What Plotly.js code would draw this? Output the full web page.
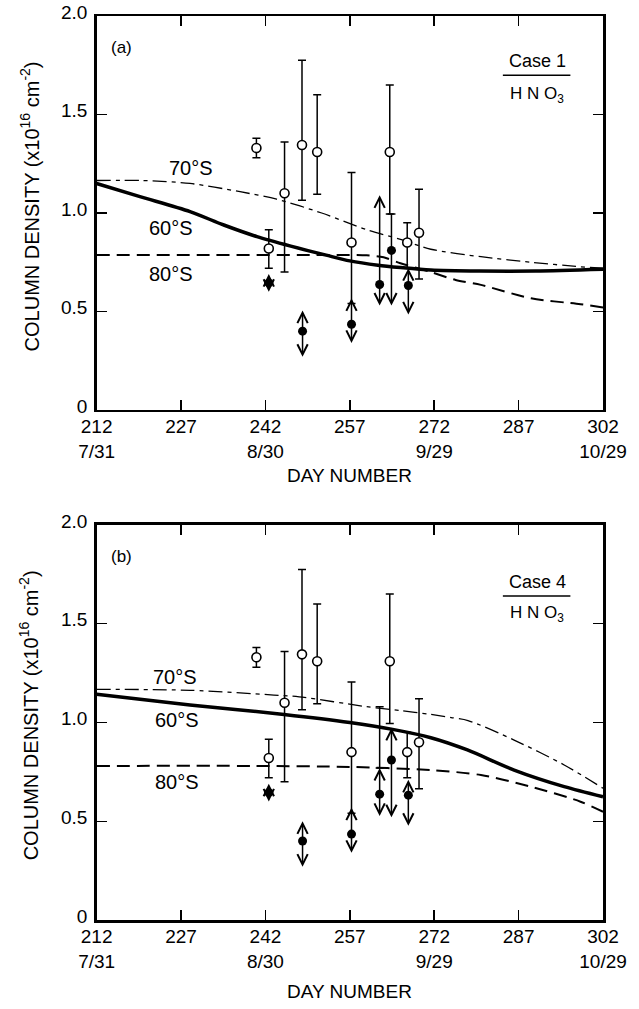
<!DOCTYPE html>
<html>
<head>
<meta charset="utf-8">
<script src="https://cdn.plot.ly/plotly-3.0.1.min.js"></script>
<style>html,body{margin:0;padding:0;background:#fff;}#chart{width:639px;height:1009px;}</style>
</head>
<body>
<div id="chart"></div>
<script>
// ---------- data ----------
const tickDays = [212, 227, 242, 257, 272, 287, 302];
const tickText = ['212<br>7/31', '227', '242<br>8/30', '257', '272<br>9/29', '287', '302<br>10/29'];
const yTicks = [0, 0.5, 1.0, 1.5, 2.0];
const yTickText = ['0', '0.5', '1.0', '1.5', '2.0'];

// open circles (observations with error bars) – same in both panels
const openDay = [240.4, 242.6, 245.4, 248.5, 251.2, 257.3, 264.1, 267.2, 269.3];
const openVal = [1.33, 0.82, 1.10, 1.345, 1.31, 0.85, 1.31, 0.85, 0.90];
const openHi  = [1.38, 0.915, 1.36, 1.775, 1.60, 1.205, 1.65, 0.95, 1.12];
const openLo  = [1.28, 0.72, 0.70, 1.065, 1.095, 0.54, 0.995, 0.72, 0.665];

// filled circles (with range arrows)
const solidDay = [242.6, 248.6, 257.3, 262.3, 264.4, 267.4];
const solidVal = [0.645, 0.40, 0.435, 0.637, 0.81, 0.632];
const upTipA   = [0.69, 0.505, 0.567, 1.09, null, 0.72];
const downTipA = [0.60, 0.27, 0.34, 0.53, 0.53, 0.485];
const upTipB   = [0.69, 0.50, 0.569, 0.77, 0.973, 0.71];
const downTipB = [0.60, 0.27, 0.34, 0.527, 0.52, 0.477];

// extra plain range segments
const extraDayA = [264.4], extraLoA = [0.81], extraHiA = [0.995];
const extraDayB = [262.3], extraLoB = [0.77], extraHiB = [1.08];

// model curves, panel (a) Case 1
const d70a = [212, 220, 228.6, 237.5, 244, 252, 260, 266, 271.4, 280.3, 289.2, 298, 302];
const v70a = [1.165, 1.165, 1.15, 1.108, 1.07, 1.00, 0.915, 0.866, 0.816, 0.778, 0.75, 0.727, 0.72];
const d60a = [212, 219.7, 228.6, 234.6, 240.5, 246.5, 252.8, 257, 262, 266, 271.4, 280, 290, 302];
const v60a = [1.15, 1.083, 1.007, 0.939, 0.88, 0.832, 0.786, 0.757, 0.735, 0.723, 0.71, 0.705, 0.705, 0.714];
const d80a = [212, 230, 250, 260, 263, 266, 271.4, 275.8, 280.3, 289.2, 298, 302];
const v80a = [0.787, 0.787, 0.787, 0.785, 0.775, 0.745, 0.70, 0.66, 0.635, 0.567, 0.537, 0.52];

// model curves, panel (b) Case 4
const d70b = [212, 228.6, 243.5, 248, 260, 266, 271.4, 275, 278, 286.2, 295.1, 302];
const v70b = [1.168, 1.163, 1.139, 1.13, 1.08, 1.06, 1.041, 1.025, 1.01, 0.911, 0.785, 0.667];
const d60b = [212, 228.6, 245.3, 257, 264.6, 271.4, 277.9, 286.2, 295.1, 302];
const v60b = [1.143, 1.089, 1.041, 1.0, 0.965, 0.923, 0.861, 0.759, 0.675, 0.624];
const d80b = [212, 240, 257, 271.4, 280.3, 289.2, 298, 302];
const v80b = [0.78, 0.78, 0.775, 0.759, 0.734, 0.675, 0.599, 0.548];

const labels = ['70°S', '60°S', '80°S'];
const labelDayA = [228.8, 225.2, 225.2], labelValA = [1.228, 0.924, 0.69];
const labelDayB = [226.0, 226.3, 226.3], labelValB = [1.232, 1.013, 0.70];

// ---------- build ----------
const FONT = 'Liberation Sans, Arial, sans-serif';
const K = '#000';

function panel(xa, ya, d70, v70, d60, v60, d80, v80, upTip, downTip, exD, exLo, exHi) {
  const tr = [];
  tr.push({x: d70, y: v70, xaxis: xa, yaxis: ya, mode: 'lines', line: {color: K, width: 1.3, dash: '14px,5px,4px,5px', shape: 'spline', smoothing: 0.8}, hoverinfo: 'skip'});
  tr.push({x: d80, y: v80, xaxis: xa, yaxis: ya, mode: 'lines', line: {color: K, width: 2, dash: '13px,7px', shape: 'spline', smoothing: 0.8}, hoverinfo: 'skip'});
  tr.push({x: d60, y: v60, xaxis: xa, yaxis: ya, mode: 'lines', line: {color: K, width: 3.5, shape: 'spline', smoothing: 0.8}, hoverinfo: 'skip'});
  tr.push({x: exD, y: exHi, xaxis: xa, yaxis: ya, mode: 'markers', marker: {size: 1, color: 'rgba(0,0,0,0)'},
    error_y: {type: 'data', symmetric: false, array: exHi.map(() => 0), arrayminus: exHi.map((h, i) => h - exLo[i]), color: K, thickness: 1.5, width: 4}});
  tr.push({x: openDay, y: openVal, xaxis: xa, yaxis: ya, mode: 'markers',
    marker: {symbol: 'circle', size: 9, color: '#fff', line: {color: K, width: 1.6}},
    error_y: {type: 'data', symmetric: false, array: openHi.map((h, i) => h - openVal[i]), arrayminus: openLo.map((l, i) => openVal[i] - l), color: K, thickness: 1.5, width: 4}});
  tr.push({x: solidDay, y: solidVal, xaxis: xa, yaxis: ya, mode: 'markers', marker: {symbol: 'circle', size: 9, color: K}});
  const ann = [];
  const refx = xa, refy = ya;
  [upTip, downTip].forEach(tips => {
    tips.forEach((t, i) => {
      if (t === null) return;
      ann.push({x: solidDay[i], y: t, ax: solidDay[i], ay: solidVal[i], xref: refx, yref: refy, axref: refx, ayref: refy,
        text: '', showarrow: true, arrowhead: 5, arrowsize: 1.35, arrowwidth: 1.5, arrowcolor: K, standoff: 0, startstandoff: 0});
    });
  });
  return {tr, ann};
}

const A = panel('x', 'y', d70a, v70a, d60a, v60a, d80a, v80a, upTipA, downTipA, extraDayA, extraLoA, extraHiA);
const B = panel('x2', 'y2', d70b, v70b, d60b, v60b, d80b, v80b, upTipB, downTipB, extraDayB, extraLoB, extraHiB);

function txt(o) { return Object.assign({showarrow: false, xanchor: 'center', yanchor: 'middle'}, o); }
const ann = A.ann.concat(B.ann);
labels.forEach((t, i) => {
  ann.push(txt({x: labelDayA[i], y: labelValA[i], xref: 'x', yref: 'y', text: t, font: {family: FONT, size: 20, color: K}}));
  ann.push(txt({x: labelDayB[i], y: labelValB[i], xref: 'x2', yref: 'y2', text: t, font: {family: FONT, size: 20, color: K}}));
});
const yTitle = 'COLUMN DENSITY (x10<sup>16</sup> cm<sup>-2</sup>)';
ann.push(txt({x: 0.046, y: 0.7958, xref: 'paper', yref: 'paper', text: yTitle, textangle: -90, font: {family: FONT, size: 20, color: K}}));
ann.push(txt({x: 0.046, y: 0.2914, xref: 'paper', yref: 'paper', text: yTitle, textangle: -90, font: {family: FONT, size: 20, color: K}}));
ann.push(txt({x: 0.547, y: 0.5283, xref: 'paper', yref: 'paper', text: 'DAY NUMBER', font: {family: FONT, size: 19, color: K}}));
ann.push(txt({x: 0.547, y: 0.0178, xref: 'paper', yref: 'paper', text: 'DAY NUMBER', font: {family: FONT, size: 19, color: K}}));
ann.push(txt({x: 216.5, y: 1.84, xref: 'x', yref: 'y', text: '(a)', font: {family: FONT, size: 17, color: K}}));
ann.push(txt({x: 216.5, y: 1.84, xref: 'x2', yref: 'y2', text: '(b)', font: {family: FONT, size: 17, color: K}}));
ann.push(txt({x: 290.3, y: 1.77, xref: 'x', yref: 'y', text: 'Case 1', font: {family: FONT, size: 18, color: K}}));
ann.push(txt({x: 290.3, y: 1.60, xref: 'x', yref: 'y', text: 'H N O<sub>3</sub>', font: {family: FONT, size: 17, color: K}}));
ann.push(txt({x: 290.3, y: 1.71, xref: 'x2', yref: 'y2', text: 'Case 4', font: {family: FONT, size: 18, color: K}}));
ann.push(txt({x: 290.3, y: 1.55, xref: 'x2', yref: 'y2', text: 'H N O<sub>3</sub>', font: {family: FONT, size: 17, color: K}}));

const shapes = [
  {type: 'line', xref: 'x', yref: 'y', x0: 284.2, x1: 296.2, y0: 1.70, y1: 1.70, line: {color: K, width: 1.5}},
  {type: 'line', xref: 'x2', yref: 'y2', x0: 284.2, x1: 296.2, y0: 1.64, y1: 1.64, line: {color: K, width: 1.5}}
];

function xax(anchor) {
  return {domain: [0.1512, 0.9437], range: [212, 302], anchor: anchor, tickvals: tickDays, ticktext: tickText,
    ticks: 'inside', ticklen: 10, tickwidth: 1.5, tickcolor: K, showline: true, linewidth: 2.5, linecolor: K, mirror: 'ticks',
    ticklabelstandoff: -2,
    showgrid: false, zeroline: false, tickfont: {family: FONT, size: 19, color: K}, fixedrange: true};
}
function yax(anchor, dom) {
  return {domain: dom, range: [0, 2], anchor: anchor, tickvals: yTicks, ticktext: yTickText,
    ticks: 'inside', ticklen: 10, tickwidth: 1.5, tickcolor: K, showline: true, linewidth: 2.5, linecolor: K, mirror: 'ticks',
    ticklabelshift: -4, ticklabelstandoff: 3,
    showgrid: false, zeroline: false, tickfont: {family: FONT, size: 19, color: K}, fixedrange: true};
}

const layout = {
  width: 639, height: 1009, margin: {l: 0, r: 0, t: 0, b: 0}, showlegend: false,
  paper_bgcolor: '#fff', plot_bgcolor: '#fff',
  xaxis: xax('y'), yaxis: yax('x', [0.5937, 0.9841]),
  xaxis2: xax('y2'), yaxis2: yax('x2', [0.0882, 0.4797]),
  annotations: ann, shapes: shapes
};

Plotly.newPlot('chart', A.tr.concat(B.tr), layout, {staticPlot: true, displayModeBar: false});
</script>
</body>
</html>
